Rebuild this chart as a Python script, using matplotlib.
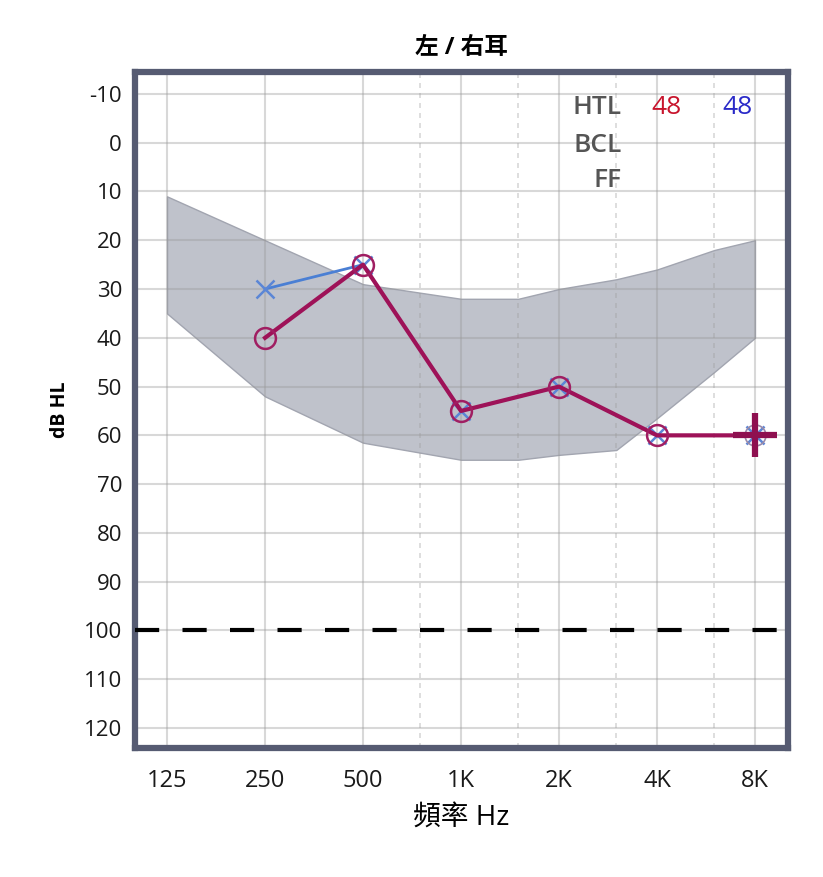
import matplotlib
matplotlib.use('agg')

import matplotlib.pyplot as plt

plt.rcParams['font.family'] = ['Open Sans', 'Noto Sans CJK TC', 'DejaVu Sans']
plt.rcParams['axes.unicode_minus'] = False

# audiogram data (dB HL)
freqs = [125, 250, 500, 1000, 2000, 4000, 8000]
tick_labels = ['125', '250', '500', '1K', '2K', '4K', '8K']
half_octaves = [750, 1500, 3000, 6000]
y_ticks = list(range(-10, 121, 10))

right_freqs = [250, 500, 1000, 2000, 4000, 8000]
right_db = [40, 25, 55, 50, 60, 60]
left_freqs = [250, 500, 1000, 2000, 4000, 8000]
left_db = [30, 25, 55, 50, 60, 60]

# normal speech / reference band
band_freqs = [125, 250, 500, 1000, 1500, 2000, 3000, 4000, 6000, 8000]
band_top = [11, 20, 29, 32, 32, 30, 28, 26, 22, 20]
band_bottom = [35, 52, 61.5, 65, 65, 64, 63, 56.5, 47, 40]

htl_right = '48'
htl_left = '48'

line_red = '#9e1258'
line_blue = '#4a7fd4'
frame = '#565b72'

fig = plt.figure(figsize=(8.23, 8.77), dpi=100)
ax = fig.add_axes([134.5 / 823, 1 - 748 / 877, 653 / 823, 676 / 877])

ax.set_xscale('log', base=2)
ax.set_xlim(125 * 2 ** -0.332, 8000 * 2 ** 0.332)
ax.set_ylim(124.1, -14.5)

ax.fill_between(band_freqs, band_top, band_bottom, color='#bfc2cb',
                edgecolor='#a2a5b0', linewidth=1, zorder=1)

# grid
grid_kw = dict(color='#9a9a9a', alpha=0.38, zorder=2)
for f in freqs:
  ax.axvline(f, linewidth=1.5, **grid_kw)
for f in half_octaves:
  ax.axvline(f, linewidth=1.2, linestyle=(0, (3, 3)), **grid_kw)
for y in y_ticks:
  ax.axhline(y, linewidth=1.5, **grid_kw)

ax.axhline(100, color='black', linewidth=3, dashes=(5.8, 5.6), zorder=3)

# left ear (blue X) underneath, right ear (red O) on top
ax.plot(left_freqs, left_db, color=line_blue, linewidth=2, zorder=4)
ax.plot(left_freqs, left_db, linestyle='none', marker='x', markersize=13,
        markeredgewidth=1.8, color='#5b86d6', zorder=5)
ax.plot(right_freqs, right_db, color=line_red, linewidth=3, zorder=6)
ax.plot(right_freqs[:-1], right_db[:-1], linestyle='none', marker='o', markersize=15,
        markerfacecolor='none', markeredgecolor='#a01e62', markeredgewidth=1.8, zorder=7)
ax.plot(right_freqs[-1:], right_db[-1:], linestyle='none', marker='o', markersize=15,
        markerfacecolor='none', markeredgecolor='#9a8aa8', markeredgewidth=1.2, zorder=7)
ax.plot(right_freqs[-1:], right_db[-1:], linestyle='none', marker='+', markersize=32,
        markeredgewidth=4.5, color='#8e1050', zorder=8)

ax.set_xticks(freqs)
ax.set_xticklabels(tick_labels)
ax.xaxis.set_minor_locator(matplotlib.ticker.NullLocator())
ax.set_yticks(y_ticks)
ax.tick_params(axis='x', length=0, pad=15, labelsize=17, labelcolor='#1a1a1a')
ax.tick_params(axis='y', length=0, pad=9, labelsize=16, labelcolor='#1a1a1a')

for s in ax.spines.values():
  s.set_color(frame)
  s.set_linewidth(4.5)

ax.set_title('左 / 右耳', fontsize=17, fontweight='bold', pad=13)
ax.set_xlabel('頻率 Hz', fontsize=20, labelpad=8)
ax.set_ylabel('dB HL', fontsize=14, fontweight='bold', labelpad=10)

label_kw = dict(transform=ax.transAxes, fontsize=19, fontweight='semibold', color='#555555', ha='right', va='center')
ax.text(0.746, 0.947, 'HTL', **label_kw)
ax.text(0.746, 0.892, 'BCL', **label_kw)
ax.text(0.746, 0.840, 'FF', **label_kw)
ax.text(0.814, 0.947, htl_right, transform=ax.transAxes, fontsize=19, color='#c8142c', ha='center', va='center')
ax.text(0.924, 0.947, htl_left, transform=ax.transAxes, fontsize=19, color='#2a2ac8', ha='center', va='center')

plt.savefig('out.png', dpi=100)
